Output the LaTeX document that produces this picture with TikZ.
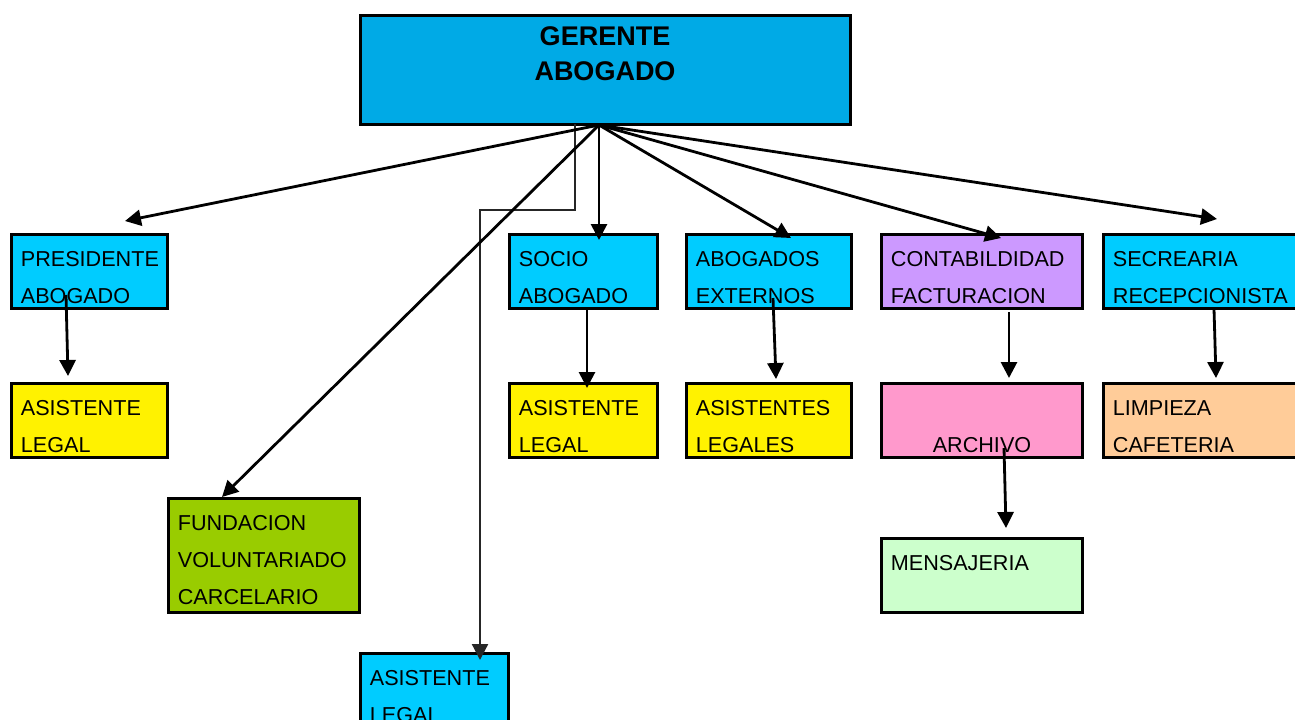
\documentclass[tikz,border=0pt]{standalone}
\usepackage{fontspec}
\setmainfont{Liberation Sans}
\usetikzlibrary{arrows.meta}
\definecolor{topblue}{RGB}{0,170,230}
\definecolor{cyanbox}{RGB}{0,204,255}
\definecolor{yellowbox}{RGB}{255,242,0}
\definecolor{greenbox}{RGB}{153,204,0}
\definecolor{purplebox}{RGB}{204,153,255}
\definecolor{pinkbox}{RGB}{255,153,204}
\definecolor{peachbox}{RGB}{255,204,153}
\definecolor{mintbox}{RGB}{204,255,204}
% name, x, y, w, h, fill, text, number of lines after the first
\newcommand\orgbox[8]{%
  \node[obox,fill=#6,minimum width={(#4-2)*0.5pt},minimum height={(#5-2)*0.5pt}] (#1) at (#2+1,#3+1) {};
  \node[lbl] (#1-t) at (#2+10.5,#3+33+37*#8) {#7};}
\begin{document}
\begin{tikzpicture}[x=0.5pt,y=-0.5pt,
  obox/.style={draw=black,line width=1.5pt,inner sep=0pt,outer sep=0pt,anchor=north west},
  lbl/.style={anchor=base west,align=left,inner sep=0pt,font=\fontsize{10.8}{18.5}\selectfont},
  arr/.style={line width=1.4pt,-{Triangle[length=8pt,width=8pt]}},
  elbow/.style={line width=1.1pt,draw=black!85,-{Triangle[length=8pt,width=8pt]}}]
\useasboundingbox (0,0) rectangle (1295,719);
\clip (0,0) rectangle (1295,719);
% boxes
\node[obox,fill=topblue,minimum width={490*0.5pt},minimum height={109*0.5pt}] (ger) at (360,15) {};
\node[anchor=base,align=center,inner sep=0pt,font=\fontsize{13.5}{17.5}\selectfont\bfseries] (ger-t) at (605,80) {GERENTE\\ABOGADO};
\orgbox{pres}{10}{233}{158}{76}{cyanbox}{PRESIDENTE\\ABOGADO}{1}
\orgbox{asla}{10}{382}{158}{76}{yellowbox}{ASISTENTE\\LEGAL}{1}
\orgbox{socio}{508}{233}{150}{76}{cyanbox}{SOCIO\\ABOGADO}{1}
\orgbox{aslb}{508}{382}{150}{76}{yellowbox}{ASISTENTE\\LEGAL}{1}
\orgbox{ext}{685}{233}{167}{76}{cyanbox}{ABOGADOS\\EXTERNOS}{1}
\orgbox{asls}{685}{382}{167}{76}{yellowbox}{ASISTENTES\\LEGALES}{1}
\orgbox{cont}{880}{233}{203}{76}{purplebox}{CONTABILDIDAD\\FACTURACION}{1}
\node[obox,fill=pinkbox,minimum width={201*0.5pt},minimum height={74*0.5pt}] (arch) at (881,383) {};
\node[anchor=base,inner sep=0pt,font=\fontsize{10.8}{18.5}\selectfont] (arch-t) at (982,452) {ARCHIVO};
\orgbox{sec}{1102}{233}{210}{76}{cyanbox}{SECREARIA\\RECEPCIONISTA}{1}
\orgbox{limp}{1102}{382}{210}{76}{peachbox}{LIMPIEZA\\CAFETERIA}{1}
\orgbox{fund}{167}{497}{193}{116}{greenbox}{FUNDACION\\VOLUNTARIADO\\CARCELARIO}{2}
\orgbox{aslc}{359}{652}{150}{110}{cyanbox}{ASISTENTE\\LEGAL}{1}
\orgbox{mens}{880}{537}{203}{76}{mintbox}{MENSAJERIA}{0}
% connector points
\coordinate (hub) at (599,125);
\coordinate (pres-in) at (125,221);
\coordinate (fund-in) at (222,497);
\coordinate (socio-in) at (599,240);
\coordinate (ext-in) at (791,238);
\coordinate (cont-in) at (1001,238);
\coordinate (sec-in) at (1217,219);
\coordinate (elb-a) at (575,124);
\coordinate (elb-b) at (575,210);
\coordinate (elb-c) at (480,210);
\coordinate (aslc-in) at (480,660);
\coordinate (pres-out) at (66,295);
\coordinate (asla-in) at (68,376);
\coordinate (socio-out) at (587,309);
\coordinate (aslb-in) at (587,388);
\coordinate (ext-out) at (773,298);
\coordinate (asls-in) at (776,379);
\coordinate (cont-out) at (1009,312);
\coordinate (arch-in) at (1009,378);
\coordinate (sec-out) at (1214,309);
\coordinate (limp-in) at (1216,378);
\coordinate (arch-out) at (1004,448);
\coordinate (mens-in) at (1006,528);
% connectors
\draw[elbow] (elb-a) -- (elb-b) -- (elb-c) -- (aslc-in);
\draw[arr] (hub) -- (pres-in);
\draw[arr] (hub) -- (fund-in);
\draw[arr] (hub) -- (socio-in);
\draw[arr] (hub) -- (ext-in);
\draw[arr] (hub) -- (cont-in);
\draw[arr] (hub) -- (sec-in);
\draw[arr] (pres-out) -- (asla-in);
\draw[arr] (socio-out) -- (aslb-in);
\draw[arr] (ext-out) -- (asls-in);
\draw[arr] (cont-out) -- (arch-in);
\draw[arr] (sec-out) -- (limp-in);
\draw[arr] (arch-out) -- (mens-in);
\end{tikzpicture}
\end{document}
